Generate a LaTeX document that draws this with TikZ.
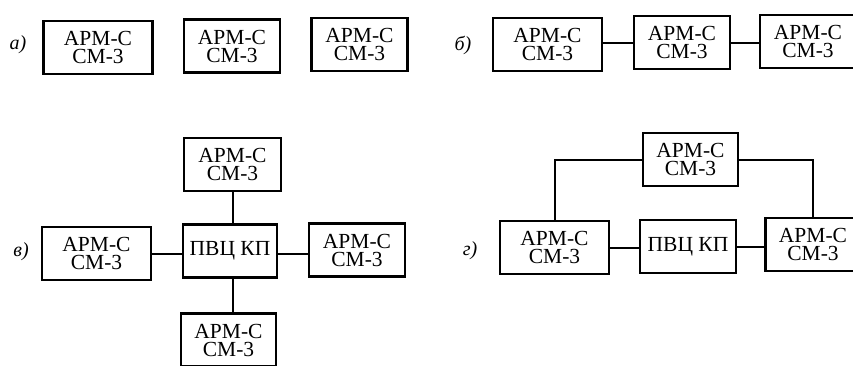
\documentclass[tikz,border=0pt]{standalone}
\usepackage{fontspec}
\setmainfont{Liberation Serif}
\begin{document}
\begin{tikzpicture}[x=1pt,y=-1pt,
  unit/.style={draw, line width=2.2pt, inner sep=0pt, align=center,
    minimum width=96pt, minimum height=53pt,
    font=\fontsize{21.5}{18}\selectfont},
  wide/.style={unit, minimum width=109pt},
  link/.style={line width=2pt},
  tag/.style={font=\fontsize{20}{20}\selectfont\itshape}]
\clip (0,0) rectangle (853,365);
\fill[white] (0,0) rectangle (853,365);

% (а) stand-alone workstations
\node[tag] (ta) at (18,45) {а)};
\node[wide] (a1) at (98,47.5) {АРМ-С\\СМ-3};
\node[unit] (a2) at (232,46) {АРМ-С\\СМ-3};
\node[unit] (a3) at (359.5,44.5) {АРМ-С\\СМ-3};

% (б) chain
\node[tag] (tb) at (463,45) {б)};
\node[wide] (b1) at (547.5,44.5) {АРМ-С\\СМ-3};
\node[unit] (b2) at (682,42.5) {АРМ-С\\СМ-3};
\node[unit] (b3) at (808,41.5) {АРМ-С\\СМ-3};
\draw[link] (b1.east |- b2.west) -- (b2.west);
\draw[link] (b2.east) -- (b2.east -| b3.west);

% (в) star around the computing centre
\node[tag] (tv) at (21,252) {в)};
\node[unit, minimum width=94pt] (vc) at (230,251) {ПВЦ КП};
\node[unit, minimum width=97pt] (vt) at (232.5,164.5) {АРМ-С\\СМ-3};
\node[wide] (vl) at (96.5,253.5) {АРМ-С\\СМ-3};
\node[unit] (vr) at (357,250) {АРМ-С\\СМ-3};
\node[unit, minimum width=95pt] (vb) at (228.5,340) {АРМ-С\\СМ-3};
\draw[link] (vt.south) -- (vt.south |- vc.north);
\draw[link] (vl.east) -- (vl.east -| vc.west);
\draw[link] (vc.east |- vl.east) -- (vr.west |- vl.east);
\draw[link] (vt.south |- vc.south) -- (vt.south |- vb.north);

% (г) ring through the computing centre
\node[tag] (tg) at (470,251) {г)};
\node[unit, minimum width=95pt] (gt) at (690.5,159.5) {АРМ-С\\СМ-3};
\node[wide] (gl) at (554.5,247.5) {АРМ-С\\СМ-3};
\node[unit] (gc) at (688,246.5) {ПВЦ КП};
\node[unit, minimum width=95pt] (gr) at (813,244.5) {АРМ-С\\СМ-3};
\draw[link] (gl.east) -- (gl.east -| gc.west);
\draw[link] (gc.east) -- (gc.east -| gr.west);
\draw[link] (gl.north) |- (gt.west);
\draw[link] (gt.east) -| (gr.north);
\end{tikzpicture}
\end{document}
